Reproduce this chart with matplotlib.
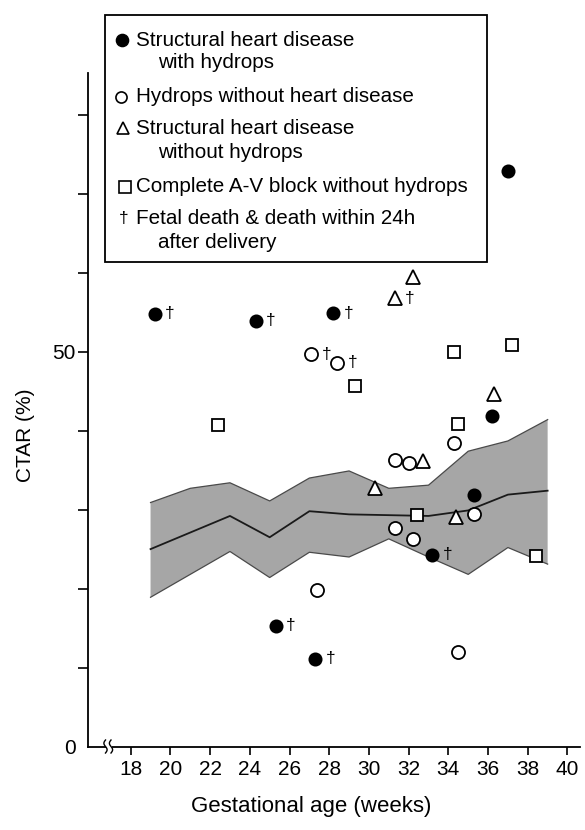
import numpy as np
import matplotlib
matplotlib.use('Agg')
import matplotlib.pyplot as plt
from matplotlib.patches import Rectangle

plt.rcParams['font.family'] = ['Liberation Sans', 'DejaVu Sans']

# normal range band (weeks, CTAR %)
band_weeks = [19, 21, 23, 25, 27, 29, 31, 33, 35, 37, 39]
band_upper = [30.9, 32.7, 33.4, 31.1, 34.0, 34.9, 32.7, 33.1, 37.4, 38.7, 41.4]
band_mean = [25.0, 27.1, 29.2, 26.5, 29.8, 29.4, 29.3, 29.2, 29.9, 31.9, 32.4]
band_lower = [18.9, 21.8, 24.7, 21.4, 24.6, 24.0, 26.3, 24.0, 21.8, 25.2, 23.1]

# structural heart disease with hydrops (filled circles)
shd_hyd_x = [19.2, 24.3, 28.2, 36.2, 35.3, 33.2, 25.3, 27.3, 37.0]
shd_hyd_y = [54.8, 53.9, 54.9, 41.8, 31.9, 24.3, 15.3, 11.1, 72.9]
shd_hyd_dead = [1, 1, 1, 0, 0, 1, 1, 1, 0]

# hydrops without heart disease (open circles)
hyd_x = [27.1, 28.4, 34.3, 31.3, 32.0, 35.3, 31.3, 32.2, 27.4, 34.5]
hyd_y = [49.7, 48.6, 38.5, 36.3, 35.9, 29.5, 27.7, 26.3, 19.8, 12.0]
hyd_dead = [1, 1, 0, 0, 0, 0, 0, 0, 0, 0]

# structural heart disease without hydrops (triangles)
shd_x = [31.3, 32.2, 36.3, 32.7, 30.3, 34.4]
shd_y = [56.8, 59.4, 44.6, 36.1, 32.7, 29.1]
shd_dead = [1, 0, 0, 0, 0, 0]

# complete A-V block without hydrops (squares)
avb_x = [22.4, 29.3, 34.3, 37.2, 34.5, 32.4, 38.4]
avb_y = [40.7, 45.7, 50.0, 50.8, 40.8, 29.3, 24.1]
avb_dead = [0, 0, 0, 0, 0, 0, 0]

x_ticks = list(range(18, 41, 2))
y_ticks = list(range(0, 81, 10))
y_ticklabels = ['0' if v == 0 else ('50' if v == 50 else '') for v in y_ticks]

fig = plt.figure(figsize=(5.85, 8.3), dpi=100)
W, H = 585, 830
ax = fig.add_axes([88 / W, 1 - 746.5 / H, (580 - 88) / W, (746.5 - 73) / H])

ax.fill_between(band_weeks, band_lower, band_upper, facecolor='#a6a6a6',
                edgecolor='none', zorder=1)
ax.plot(band_weeks, band_upper, color='#4a4a4a', lw=0.9, zorder=2)
ax.plot(band_weeks, band_lower, color='#4a4a4a', lw=0.9, zorder=2)
ax.plot(band_weeks, band_mean, color='#1a1a1a', lw=1.3, zorder=2)

groups = [
    (shd_hyd_x, shd_hyd_y, shd_hyd_dead, 'o', 'black', 8.8),
    (hyd_x, hyd_y, hyd_dead, 'o', 'white', 9.4),
    (shd_x, shd_y, shd_dead, '^', 'white', 9.5),
    (avb_x, avb_y, avb_dead, 's', 'white', 9.0),
]
for gx, gy, dead, mk, fc, ms in groups:
    ax.plot(gx, gy, ls='none', marker=mk, ms=ms, mfc=fc, mec='black',
            mew=1.3, zorder=4)
    for x, y, d in zip(gx, gy, dead):
        if d:
            ax.annotate('†', (x, y), xytext=(7.5, 0), textcoords='offset points',
                        ha='left', va='center', fontsize=12.5, zorder=5)

ax.set_xlim(15.85, 40.63)
ax.set_ylim(0, 85.3)
ax.set_xticks(x_ticks)
ax.set_yticks(y_ticks)
ax.set_yticklabels(y_ticklabels)
ax.yaxis.get_major_ticks()[0].tick1line.set_visible(False)
ax.tick_params(axis='x', direction='out', length=6, width=1.2, labelsize=15, pad=3.5)
ax.tick_params(axis='y', direction='out', length=7.5, width=1.2, labelsize=15, pad=1.5)
for s in ['top', 'right']:
    ax.spines[s].set_visible(False)
for s in ['left', 'bottom']:
    ax.spines[s].set_linewidth(1.3)

ax.set_xlabel('Gestational age (weeks)', fontsize=16, va='center', ha='center')
ax.xaxis.set_label_coords(0.453, -0.0898)
ax.set_ylabel('CTAR (%)', fontsize=15, va='center', ha='center')
ax.yaxis.set_label_coords(-0.128, 0.4625)

# overlay in pixel coordinates for legend box and axis break
lay = fig.add_axes([0, 0, 1, 1], zorder=5)
lay.set_xlim(0, W)
lay.set_ylim(H, 0)
lay.axis('off')
lay.patch.set_alpha(0)

# axis break mark
lay.add_patch(Rectangle((105.5, 744), 6, 5, facecolor='white', edgecolor='none'))
t = np.linspace(-1, 1, 30)
for bx in (105.5, 111.0):
    lay.plot(bx + 1.6 * np.sin(np.pi * t), 746.5 + 6.5 * t, color='black', lw=1.0)

lay.add_patch(Rectangle((105, 15), 382, 247, facecolor='white',
                        edgecolor='black', lw=1.3))
fs = 14.9
lay.plot(121.7, 40, marker='o', ms=8.8, mfc='black', mec='black')
lay.text(136.5, 40, 'Structural heart disease', fontsize=fs, va='center')
lay.text(158, 63, 'with hydrops', fontsize=fs, va='center')
lay.plot(120.5, 97, marker='o', ms=8, mfc='white', mec='black', mew=1.2)
lay.text(136.5, 97, 'Hydrops without heart disease', fontsize=fs, va='center')
lay.plot(122.5, 128, marker='^', ms=8.5, mfc='white', mec='black', mew=1.2)
lay.text(136.5, 128, 'Structural heart disease', fontsize=fs, va='center')
lay.text(158, 152, 'without hydrops', fontsize=fs, va='center')
lay.plot(124.5, 187, marker='s', ms=8, mfc='white', mec='black', mew=1.2)
lay.text(136.5, 187, 'Complete A-V block without hydrops', fontsize=fs, va='center')
lay.text(124, 218, '†', fontsize=12.5, va='center', ha='center')
lay.text(136.5, 218, 'Fetal death & death within 24h', fontsize=fs, va='center')
lay.text(158, 242, 'after delivery', fontsize=fs, va='center')

fig.savefig('out.png', dpi=100, facecolor='white')
